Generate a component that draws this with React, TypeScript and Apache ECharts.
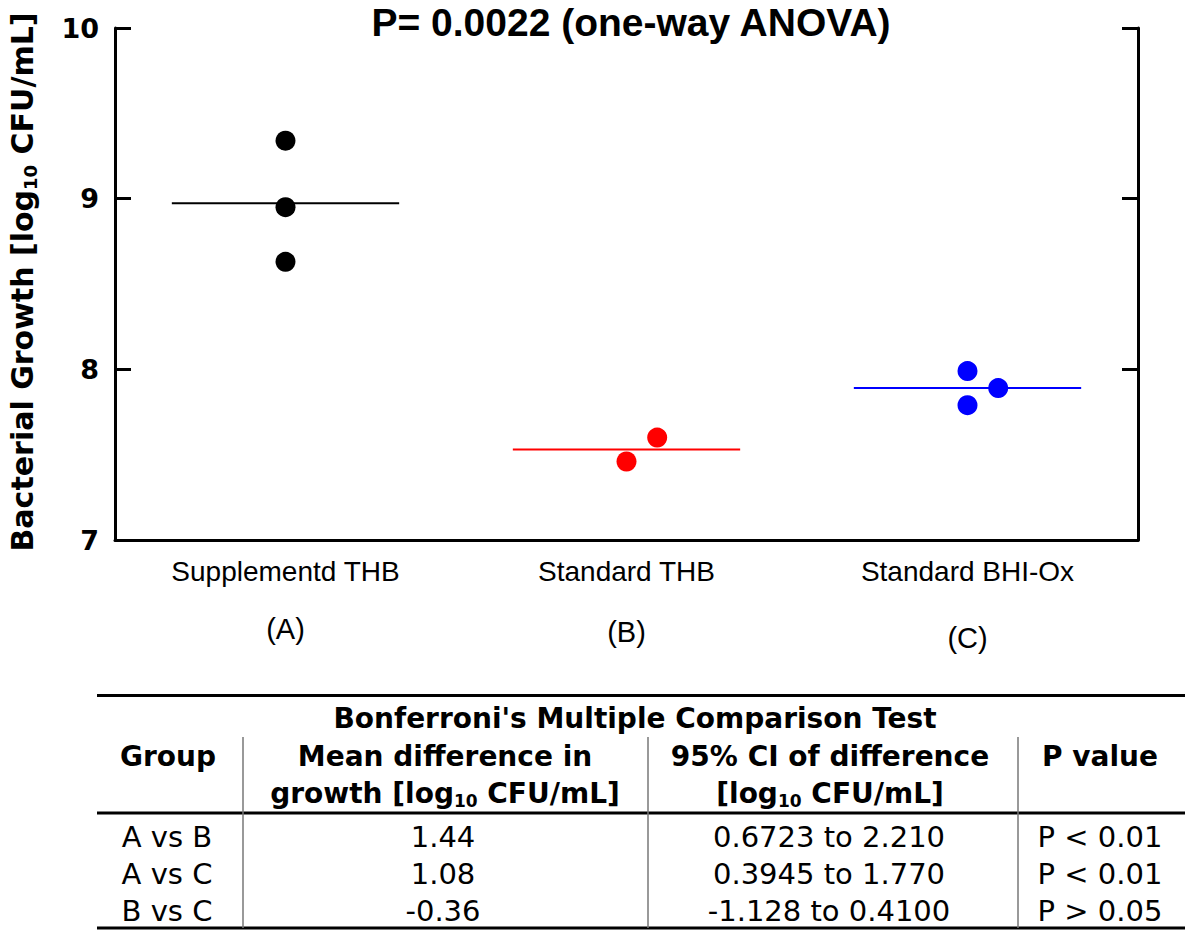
import React, { useEffect, useRef } from "react";
import * as echarts from "echarts";

const groupNames = ["Supplementd THB", "Standard THB", "Standard BHI-Ox"];
const groupLetters = ["(A)", "(B)", "(C)"];
const groupColors = ["#000000", "#ff0000", "#0000ff"];
const valuesA = [9.34, 8.95, 8.63];
const valuesB = [7.46, 7.6];
const valuesC = [7.99, 7.79, 7.89];
const jitterA = [0, 0, 0];
const jitterB = [0, 0.09];
const jitterC = [0, 0, 0.09];
const yMin = 7;
const yMax = 10;
const yStep = 1;

const chartTitle = "P= 0.0022 (one-way ANOVA)";
const tableTitle = "Bonferroni's Multiple Comparison Test";
const comparisons = ["A vs B", "A vs C", "B vs C"];
const meanDiffs = ["1.44", "1.08", "-0.36"];
const ciRanges = ["0.6723 to 2.210", "0.3945 to 1.770", "-1.128 to 0.4100"];
const pValues = ["P < 0.01", "P < 0.01", "P > 0.05"];

const DJ = "DejaVu Sans";
const AR = "Liberation Sans, Arial";

function txt(x: number, y: number, text: string, size: number, bold: boolean, family = DJ) {
  return {
    type: "text",
    x,
    y,
    style: {
      text,
      fill: "#000",
      fontSize: size,
      fontFamily: family,
      fontWeight: bold ? "bold" : "normal",
      align: "center",
      verticalAlign: "middle",
      textAlign: "center",
      textVerticalAlign: "middle",
    },
  };
}

function hline(x1: number, x2: number, y: number, w: number, color = "#000") {
  return { type: "line", shape: { x1, y1: y, x2, y2: y }, style: { stroke: color, lineWidth: w } };
}
function vline(x: number, y1: number, y2: number, w: number, color = "#777") {
  return { type: "line", shape: { x1: x, y1, x2: x, y2 }, style: { stroke: color, lineWidth: w } };
}

function subText(x: number, y: number, text: string, size: number, subSize: number, lh: number, rotation = 0) {
  return {
    type: "text",
    x,
    y,
    rotation,
    style: {
      text,
      fill: "#000",
      align: "center",
      verticalAlign: "middle",
      rich: {
        b: { fontFamily: DJ, fontSize: size, fontWeight: "bold", lineHeight: lh, fill: "#000" },
        s: { fontFamily: DJ, fontSize: subSize, fontWeight: "bold", lineHeight: subSize, verticalAlign: "bottom", fill: "#000" },
      },
    },
  };
}

export default function App() {
  const ref = useRef<HTMLDivElement>(null);
  useEffect(() => {
    if (!ref.current) return;
    const chart = echarts.init(ref.current, undefined, { renderer: "svg" });
    const groups = [valuesA, valuesB, valuesC];
    const jitters = [jitterA, jitterB, jitterC];
    const means = groups.map((g) => g.reduce((a, b) => a + b, 0) / g.length);

    const rowYs = [837, 874, 911];
    const graphics: any[] = [
      txt(631, 22, chartTitle, 39, true, AR),
      subText(22, 282, "{b|Bacterial Growth [log}{s|10}{b| CFU/mL]}", 30, 18, 34, Math.PI / 2),
      hline(97, 1185, 695.5, 3),
      hline(97, 1185, 813, 3),
      hline(97, 1185, 928, 3),
      vline(243, 737, 928, 1.5),
      vline(648, 737, 928, 1.5),
      vline(1018, 737, 928, 1.5),
      txt(635, 718, tableTitle, 28, true),
      txt(168, 756, "Group", 28, true),
      txt(445, 756, "Mean difference in", 28, true),
      subText(445, 793, "{b|growth [log}{s|10}{b| CFU/mL]}", 28, 17, 32),
      txt(830, 756, "95% CI of difference", 28, true),
      subText(830, 793, "{b|[log}{s|10}{b| CFU/mL]}", 28, 17, 32),
      txt(1100, 756, "P value", 28, true),
    ];
    comparisons.forEach((c, i) => {
      graphics.push(txt(167, rowYs[i], c, 29, false));
      graphics.push(txt(443, rowYs[i], meanDiffs[i], 29, false));
      graphics.push(txt(829, rowYs[i], ciRanges[i], 29, false));
      graphics.push(txt(1100, rowYs[i], pValues[i], 29, false));
    });

    const letterHeights = [57, 63, 75];
    const rich: any = {
      n: { fontFamily: AR, fontSize: 28, color: "#000", lineHeight: 57 },
    };
    letterHeights.forEach((h, i) => {
      rich["l" + i] = { fontFamily: AR, fontSize: 29, color: "#000", lineHeight: h };
    });

    chart.setOption({
      animation: false,
      backgroundColor: "#fff",
      grid: { left: 115, right: 62, top: 28, bottom: 401, containLabel: false },
      xAxis: [
        { type: "value", min: 0, max: 3, show: false },
        {
          type: "category",
          data: groupNames,
          position: "bottom",
          axisLine: { show: true, onZero: false, lineStyle: { color: "#000", width: 3 } },
          axisTick: { show: false },
          splitLine: { show: false },
          axisLabel: {
            interval: 0,
            margin: 3,
            formatter: (v: string, idx: number) => `{n|${v}}\n{l${idx}|${groupLetters[idx]}}`,
            rich,
          },
        },
      ],
      yAxis: [
        {
          type: "value",
          position: "left",
          min: yMin,
          max: yMax,
          interval: yStep,
          axisLine: { show: true, onZero: false, lineStyle: { color: "#000", width: 3 } },
          axisTick: { show: true, inside: true, length: 16, lineStyle: { color: "#000", width: 3 } },
          axisLabel: { fontFamily: DJ, fontWeight: "bold", fontSize: 27, color: "#000", margin: 16 },
          splitLine: { show: false },
        },
        {
          type: "value",
          position: "right",
          min: yMin,
          max: yMax,
          interval: yStep,
          axisLine: { show: true, onZero: false, lineStyle: { color: "#000", width: 3 } },
          axisTick: { show: true, inside: true, length: 16, lineStyle: { color: "#000", width: 3 } },
          axisLabel: { show: false },
          splitLine: { show: false },
        },
      ],
      series: [
        ...groups.map((g, i) => ({
          type: "line",
          xAxisIndex: 0,
          yAxisIndex: 0,
          data: [
            [i + 0.5 - 1 / 3, means[i]],
            [i + 0.5 + 1 / 3, means[i]],
          ],
          symbol: "none",
          silent: true,
          lineStyle: { color: groupColors[i], width: 2 },
          z: 2,
        })),
        ...groups.map((g, i) => ({
          type: "scatter",
          xAxisIndex: 0,
          yAxisIndex: 0,
          data: g.map((v, j) => [i + 0.5 + jitters[i][j], v]),
          symbol: "circle",
          symbolSize: 20,
          itemStyle: { color: groupColors[i], opacity: 1 },
          z: 3,
        })),
      ],
      graphic: graphics,
    });
    return () => chart.dispose();
  }, []);
  return <div ref={ref} style={{ position: "absolute", left: 0, top: 0, width: 1200, height: 941 }} />;
}
